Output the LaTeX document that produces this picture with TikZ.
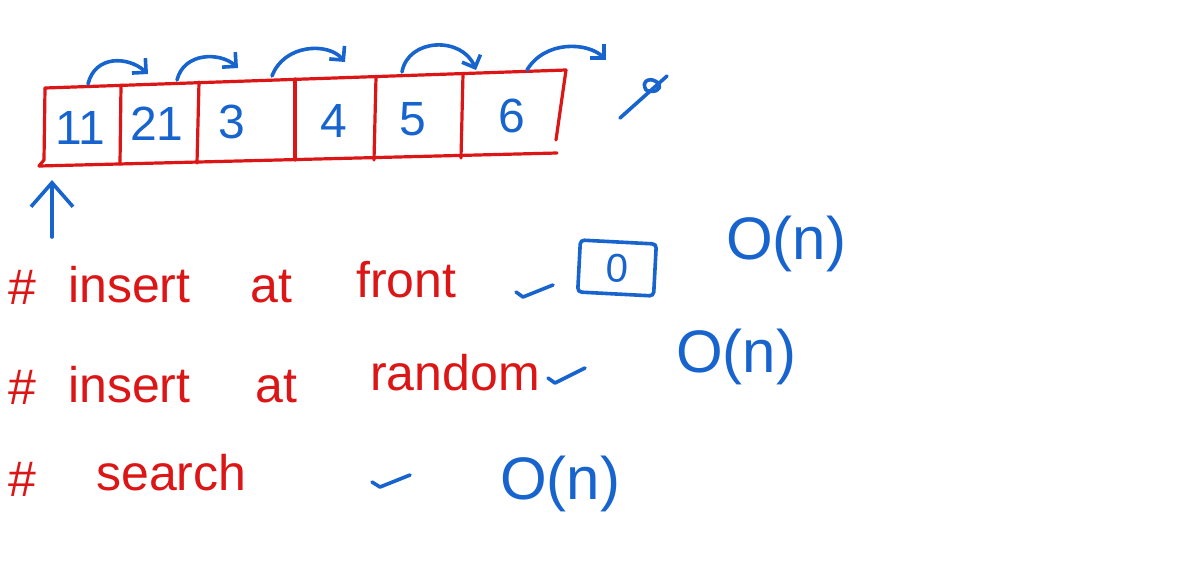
\documentclass[tikz,border=0pt]{standalone}
\usepackage{fontspec}
\setmainfont{Liberation Sans}
\usetikzlibrary{arrows.meta}
\definecolor{ink}{RGB}{220,22,22}
\definecolor{pen}{RGB}{24,100,206}
\begin{document}
\begin{tikzpicture}[x=1pt,y=-1pt,
  redline/.style={draw=ink,line width=3.2pt,line cap=round,line join=round},
  blueline/.style={draw=pen,line width=3.6pt,line cap=round,line join=round},
  arr/.style={blueline,-{Straight Barb[length=10pt,width=20pt]}},
  cellnum/.style={text=pen,font=\fontsize{48}{52}\selectfont},
  word/.style={text=ink,font=\fontsize{50}{54}\selectfont,anchor=base west,inner sep=0pt},
  big/.style={text=pen,font=\fontsize{60}{64}\selectfont},
  tick/.style={blueline}]
\useasboundingbox[fill=white] (0,0) rectangle (1191,571);

% array outline
\coordinate (tl) at (45,88);
\coordinate (tr) at (566,70);
\coordinate (br) at (557,153);
\coordinate (bl) at (39,166);
\coordinate (rb) at (556,140);
\coordinate (lb) at (44,160);
\draw[redline] (tl) -- (tr);
\draw[redline] (bl) -- (br);
\draw[redline] (tl) -- (lb) -- (bl);
\draw[redline] (tr) -- (rb);
% dividers
\foreach \n/\xa/\ya/\xb/\yb in {d1/121/85/120/164, d2/199/82/197/163, d3/295/79/295/160, d4/376/77/374/160, d5/463/74/461/158}{
  \coordinate (\n t) at (\xa,\ya);
  \coordinate (\n b) at (\xb,\yb);
  \draw[redline] (\n t) -- (\n b);
}
% values
\node[cellnum] (c1) at (80,128) {11};
\node[cellnum] (c2) at (157,124) {21};
\node[cellnum] (c3) at (232,122) {3};
\node[cellnum] (c4) at (334,121) {4};
\node[cellnum] (c5) at (413,119) {5};
\node[cellnum] (c6) at (512,116) {6};

% next-pointer arrows
\coordinate (a1s) at (88,84);   \coordinate (a1e) at (148,74);
\coordinate (a2s) at (177,80);  \coordinate (a2e) at (238,68);
\coordinate (a3s) at (272,76);  \coordinate (a3e) at (345,62);
\coordinate (a4s) at (402,72);  \coordinate (a4e) at (476,70);
\coordinate (a5s) at (527,70);  \coordinate (a5e) at (606,60);
\draw[arr] (a1s) .. controls (95,55) and (128,56) .. (a1e);
\draw[arr] (a2s) .. controls (184,52) and (220,52) .. (a2e);
\draw[arr] (a3s) .. controls (284,44) and (328,42) .. (a3e);
\draw[arr] (a4s) .. controls (408,38) and (462,36) .. (a4e);
\draw[arr] (a5s) .. controls (545,40) and (588,42) .. (a5e);

% null
\coordinate (n1) at (620,118);
\coordinate (n2) at (667,76);
\draw[blueline] (n1) -- (n2);
\draw[blueline] (646,90) .. controls (640,80) and (652,76) .. (659,84) .. controls (662,89) and (654,94) .. (646,90);

% head pointer
\coordinate (h1) at (52,237);
\coordinate (h2) at (52,180);
\draw[blueline,-{Straight Barb[length=24pt,width=42pt]}] (h1) -- (h2);

% row 1
\node[word] (r1h) at (8,304) {\#};
\node[word] (r1a) at (68,302) {insert};
\node[word] (r1b) at (250,302) {at};
\node[word] (r1c) at (356,297) {front};
\coordinate (k1a) at (516,292); \coordinate (k1b) at (523,297); \coordinate (k1c) at (553,285);
\draw[tick] (k1a) -- (k1b) -- (k1c);
\node[text=pen,font=\fontsize{40}{44}\selectfont,draw=pen,line width=3.6pt,rounded corners=4pt,rotate=-3,minimum width=76pt,minimum height=52pt] (z1) at (617,268) {0};
\node[big] (o1) at (786,244) {O(n)};

% row 2
\node[word] (r2h) at (8,404) {\#};
\node[word] (r2a) at (68,402) {insert};
\node[word] (r2b) at (255,402) {at};
\node[word] (r2c) at (370,390) {random};
\coordinate (k2a) at (548,378); \coordinate (k2b) at (555,383); \coordinate (k2c) at (585,368);
\draw[tick] (k2a) -- (k2b) -- (k2c);
\node[big] (o2) at (736,357) {O(n)};

% row 3
\node[word] (r3h) at (8,496) {\#};
\node[word] (r3a) at (96,490) {search};
\coordinate (k3a) at (372,482); \coordinate (k3b) at (380,487); \coordinate (k3c) at (410,475);
\draw[tick] (k3a) -- (k3b) -- (k3c);
\node[big] (o3) at (560,484) {O(n)};
\end{tikzpicture}
\end{document}
